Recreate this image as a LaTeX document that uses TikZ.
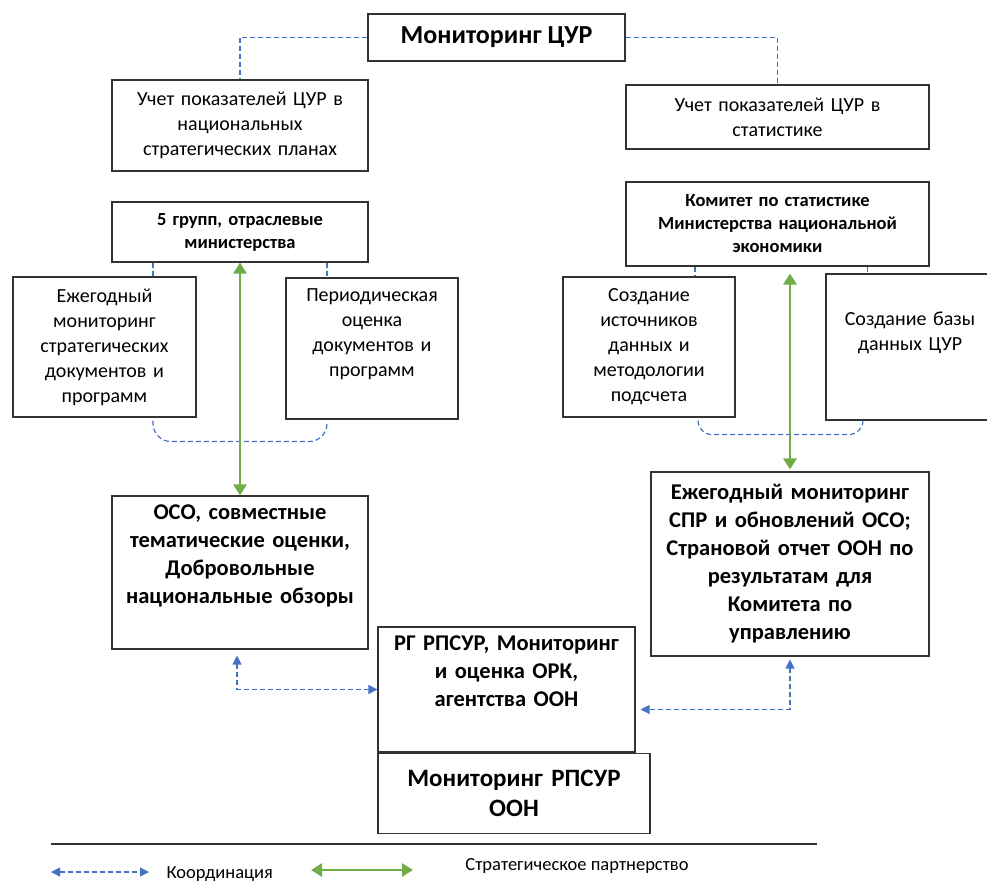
\documentclass[tikz,border=0pt]{standalone}
\usepackage{fontspec}
\setmainfont{Carlito}
\usetikzlibrary{arrows.meta,positioning,calc}
\definecolor{coordblue}{RGB}{68,114,196}
\definecolor{partgreen}{RGB}{112,173,71}

\tikzset{
    box/.style={draw=black!80, line width=1.1pt, align=center, inner sep=3pt},
    plain/.style={font=\fontsize{20}{25}\selectfont},
    small/.style={font=\bfseries\fontsize{18.5}{23}\selectfont},
    big/.style={font=\bfseries\fontsize{22.5}{28}\selectfont},
    coord/.style={draw=coordblue, dash pattern=on 5pt off 3pt, line width=1.2pt},
    coordarrow/.style={coord, {Triangle[length=9pt,width=9pt]}-{Triangle[length=9pt,width=9pt]}},
    partner/.style={draw=partgreen, line width=2.8pt, {Triangle[length=11pt,width=13pt]}-{Triangle[length=11pt,width=13pt]}}
}

\begin{document}
\begin{tikzpicture}[x=1pt,y=-1pt]
\useasboundingbox (0,0) rectangle (987,884);

\node[box, minimum width=257pt, minimum height=47pt, font=\bfseries\fontsize{26}{30}\selectfont] (mon) at (496.5,37.5) {Мониторинг ЦУР};

\node[box, plain, text width=250pt, minimum height=91pt] (un) at (240,125.5) {Учет показателей ЦУР в\\национальных\\стратегических планах};
\node[box, plain, text width=297pt, minimum height=64pt] (us) at (777.5,117) {Учет показателей ЦУР в\\статистике};

\node[box, small, text width=250pt, minimum height=60pt] (grp) at (240,232) {5 групп, отраслевые\\министерства};
\node[box, small, text width=297pt, minimum height=84pt] (kom) at (777.5,224) {Комитет по статистике\\Министерства национальной\\экономики};

\node[box, plain, text width=177pt, minimum height=140pt] (ezh) at (104.5,347) {Ежегодный\\мониторинг\\стратегических\\документов и\\программ};
\node[box, plain, text width=166pt, minimum height=141pt] (per) at (372,348.5) {Периодическая\\оценка\\документов и\\программ\\\strut};
\node[box, plain, text width=166pt, minimum height=140pt] (ist) at (649,347) {Создание\\источников\\данных и\\методологии\\подсчета};
\node[box, plain, text width=162pt, minimum height=146pt] (baz) at (910,347) {Создание базы\\данных ЦУР\\\strut};

\node[box, big, text width=250pt, minimum height=153pt] (oso) at (240,572.5) {ОСО, совместные\\тематические оценки,\\Добровольные\\национальные обзоры\\\strut};
\node[box, big, text width=272pt, minimum height=184pt] (spr) at (790,564) {Ежегодный мониторинг\\СПР и обновлений ОСО;\\Страновой отчет ООН по\\результатам для\\Комитета по\\управлению};

\node[box, big, text width=251pt, minimum height=125pt] (rg) at (506.5,689.5) {РГ РПСУР, Мониторинг\\и оценка ОРК,\\агентства ООН\\\strut};
\node[box, anchor=north west, text width=266pt, minimum height=80pt, font=\bfseries\fontsize{25}{30}\selectfont] (rpsur) at (rg.south west) {Мониторинг РПСУР\\ООН};

% coordination lines
\draw[coord] (mon.west) -| (un.north);
\draw[coord] (mon.east) -| (us.north);
\draw[coord] ([xshift=-87pt]grp.south) -- ([xshift=-87pt]grp.south |- ezh.north);
\draw[coord] ([xshift=87pt]grp.south) -- ([xshift=87pt]grp.south |- per.north);
\draw[coord, rounded corners=18pt] ([xshift=48.5pt,yshift=-3pt]ezh.south) -- ([xshift=48.5pt,yshift=-24pt]ezh.south) -- ([xshift=-45pt,yshift=-22pt]per.south) -- ([xshift=-45pt,yshift=-3pt]per.south);
\draw[coord] ([xshift=-82.5pt]kom.south) -- ([xshift=-82.5pt]kom.south |- ist.north);
\draw[coord] ([xshift=90pt]kom.south) -- ([xshift=90pt]kom.south |- baz.north);
\draw[coord, rounded corners=14pt] ([xshift=49pt,yshift=-3pt]ist.south) -- ([xshift=49pt,yshift=-17pt]ist.south) -- ([xshift=-47pt,yshift=-14pt]baz.south) -- ([xshift=-47pt,yshift=-1pt]baz.south);

% partnership
\draw[partner] (grp.south) -- (oso.north);
\draw[partner] ([yshift=-7pt]kom.south -| spr.north) -- ([yshift=2pt]spr.north);

\draw[coordarrow] ([xshift=-3pt,yshift=-6pt]oso.south) |- (rg.west);
\draw[coordarrow] ([yshift=-3pt]spr.south) |- ([xshift=5pt,yshift=-20pt]rg.east);

% legend
\draw[black!80, line width=1.3pt] (51,844) -- (817,844);
\coordinate (la) at (51,872);
\coordinate (lb) at (149,872);
\draw[coordarrow] (la) -- (lb);
\node[anchor=base west, font=\fontsize{18.5}{20}\selectfont] (lkoord) at (163,878) {Координация};
\coordinate (lc) at (311,870);
\coordinate (ld) at (413,870);
\draw[partner] (lc) -- (ld);
\node[font=\fontsize{18.5}{20}\selectfont] (lpart) at (577,866) {Стратегическое партнерство};
\end{tikzpicture}
\end{document}
